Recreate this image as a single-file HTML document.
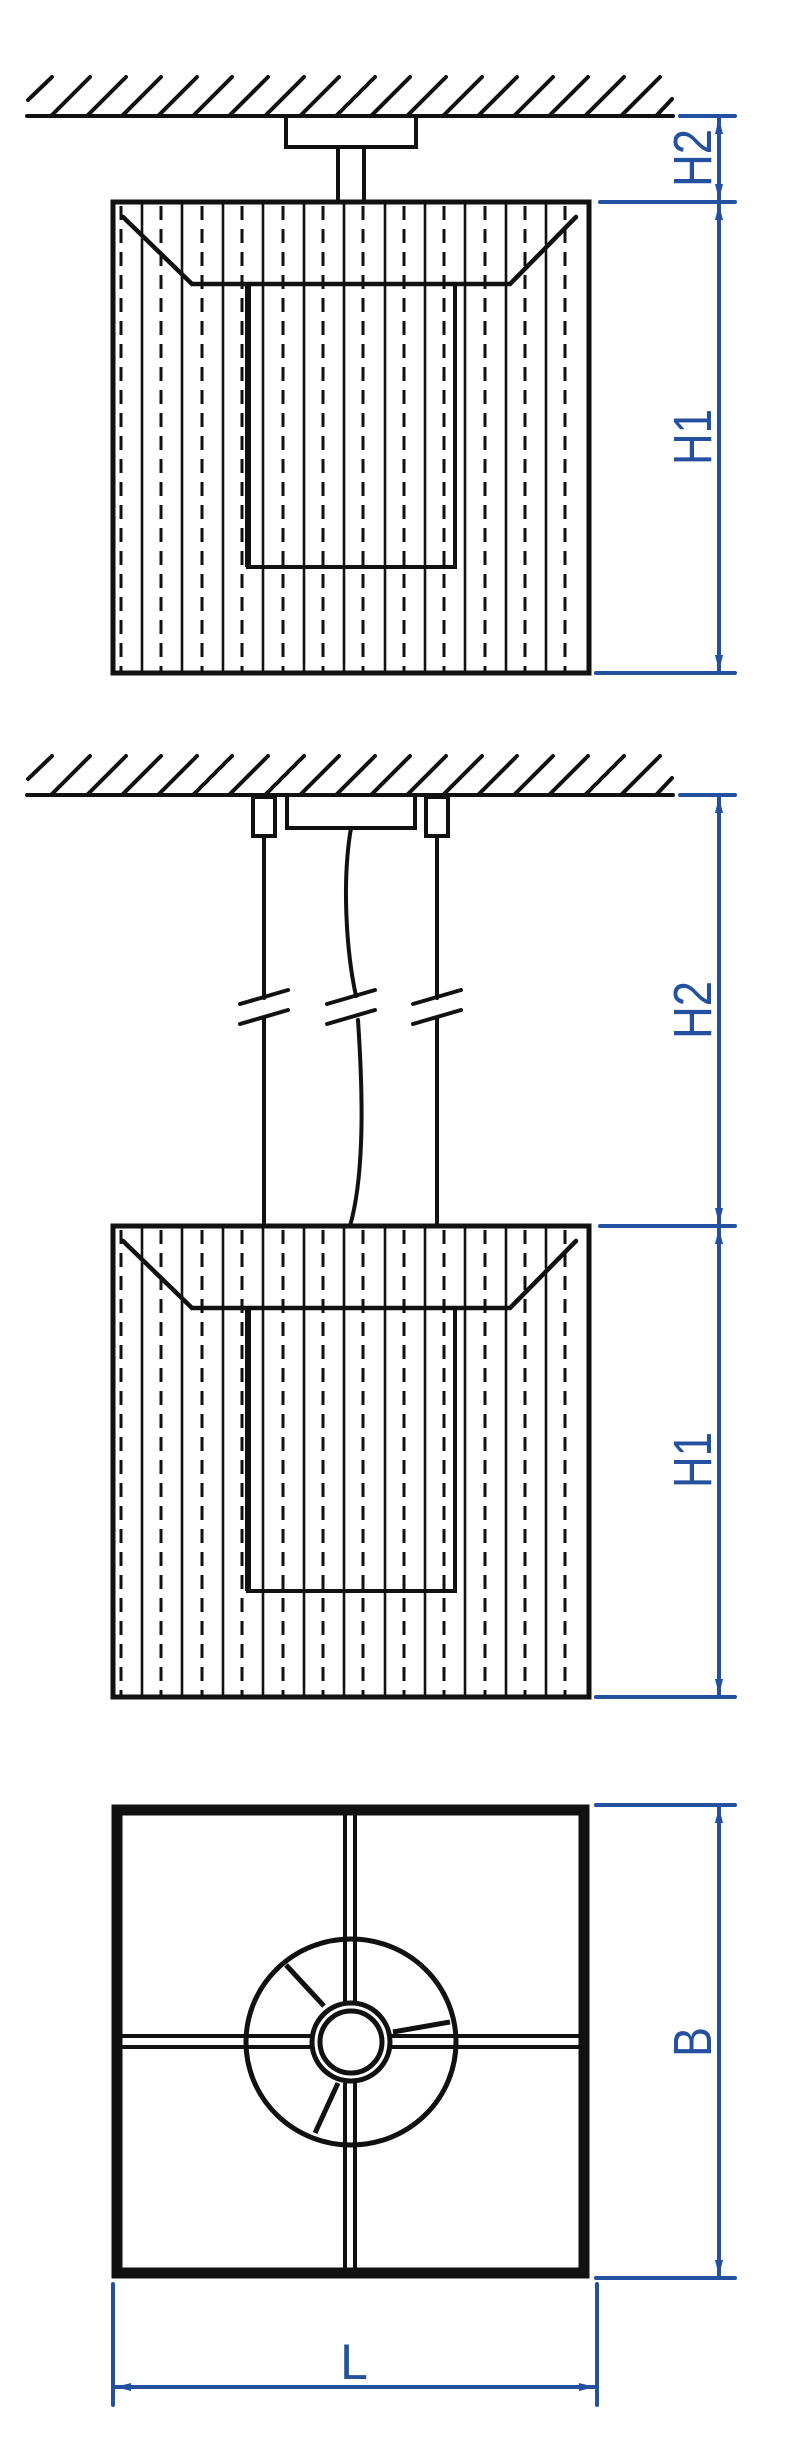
<!DOCTYPE html>
<html><head><meta charset="utf-8"><style>
html,body{margin:0;padding:0;background:#fff;}
svg{display:block;}
text{font-family:"Liberation Sans",sans-serif;fill:#2450a0;}
</style></head><body>
<svg width="800" height="2457" viewBox="0 0 800 2457" xmlns="http://www.w3.org/2000/svg">
<defs>
<g id="hatch" stroke="#111" stroke-width="4" stroke-linecap="round">
<line x1="27" y1="0" x2="673" y2="0"/>
<line x1="28" y1="-16" x2="52" y2="-39"/>
<line x1="52" y1="-1" x2="90" y2="-39"/>
<line x1="88" y1="-1" x2="126" y2="-39"/>
<line x1="123" y1="-1" x2="161" y2="-39"/>
<line x1="159" y1="-1" x2="197" y2="-39"/>
<line x1="194" y1="-1" x2="232" y2="-39"/>
<line x1="230" y1="-1" x2="268" y2="-39"/>
<line x1="266" y1="-1" x2="304" y2="-39"/>
<line x1="301" y1="-1" x2="339" y2="-39"/>
<line x1="337" y1="-1" x2="375" y2="-39"/>
<line x1="372" y1="-1" x2="410" y2="-39"/>
<line x1="408" y1="-1" x2="446" y2="-39"/>
<line x1="444" y1="-1" x2="482" y2="-39"/>
<line x1="479" y1="-1" x2="517" y2="-39"/>
<line x1="515" y1="-1" x2="553" y2="-39"/>
<line x1="550" y1="-1" x2="588" y2="-39"/>
<line x1="586" y1="-1" x2="624" y2="-39"/>
<line x1="622" y1="-1" x2="660" y2="-39"/>
<line x1="657" y1="-1" x2="672" y2="-17"/>
</g>
<g id="shade">
<g stroke="#111" stroke-width="2.6">
<line x1="142" y1="0" x2="142" y2="471"/><line x1="182" y1="0" x2="182" y2="471"/>
<line x1="223" y1="0" x2="223" y2="471"/><line x1="263" y1="0" x2="263" y2="471"/>
<line x1="304" y1="0" x2="304" y2="471"/><line x1="344" y1="0" x2="344" y2="471"/>
<line x1="385" y1="0" x2="385" y2="471"/><line x1="425" y1="0" x2="425" y2="471"/>
<line x1="465" y1="0" x2="465" y2="471"/><line x1="506" y1="0" x2="506" y2="471"/>
<line x1="546" y1="0" x2="546" y2="471"/>
</g>
<g stroke="#111" stroke-width="3" stroke-dasharray="14 9">
<line x1="121" y1="4" x2="121" y2="471"/><line x1="161" y1="4" x2="161" y2="471"/>
<line x1="202" y1="4" x2="202" y2="471"/><line x1="242" y1="4" x2="242" y2="471"/>
<line x1="283" y1="4" x2="283" y2="471"/><line x1="323" y1="4" x2="323" y2="471"/>
<line x1="363" y1="4" x2="363" y2="471"/><line x1="404" y1="4" x2="404" y2="471"/>
<line x1="444" y1="4" x2="444" y2="471"/><line x1="485" y1="4" x2="485" y2="471"/>
<line x1="525" y1="4" x2="525" y2="471"/><line x1="565" y1="4" x2="565" y2="471"/>
</g>
<rect x="113" y="0" width="476" height="471" fill="none" stroke="#111" stroke-width="5"/>
<polyline points="123,15 192,82 510,82 576,15" fill="none" stroke="#111" stroke-width="4.5" stroke-linecap="round"/>
<polyline points="248,82 248,365 455,365 455,82" fill="none" stroke="#111" stroke-width="4"/>
<line x1="248" y1="82" x2="248" y2="365" stroke="#111" stroke-width="6"/>
</g>
<g id="arrU"><path d="M0,0 L-4,16 L4,16 Z" fill="#2450a0"/></g>
<g id="arrD"><path d="M0,0 L-4,-16 L4,-16 Z" fill="#2450a0"/></g>
</defs>

<!-- VIEW 1 -->
<use href="#hatch" transform="translate(0,116)"/>
<rect x="286" y="116" width="130" height="31" fill="none" stroke="#111" stroke-width="4"/>
<line x1="338" y1="147" x2="338" y2="202" stroke="#111" stroke-width="4"/>
<line x1="364" y1="147" x2="364" y2="202" stroke="#111" stroke-width="4"/>
<use href="#shade" transform="translate(0,202)"/>
<g stroke="#2450a0" stroke-width="4" stroke-linecap="round">
<line x1="680" y1="116" x2="735" y2="116"/>
<line x1="600" y1="202" x2="735" y2="202"/>
<line x1="596" y1="673" x2="735" y2="673"/>
<line x1="719" y1="118" x2="719" y2="671"/>
</g>
<use href="#arrU" transform="translate(719,118)"/>
<use href="#arrD" transform="translate(719,200)"/>
<use href="#arrU" transform="translate(719,204)"/>
<use href="#arrD" transform="translate(719,671)"/>
<text transform="translate(711,158) rotate(-90)" font-size="54" text-anchor="middle" textLength="58" lengthAdjust="spacingAndGlyphs">H2</text>
<text transform="translate(711,437) rotate(-90)" font-size="54" text-anchor="middle" textLength="56" lengthAdjust="spacingAndGlyphs">H1</text>

<!-- VIEW 2 -->
<use href="#hatch" transform="translate(0,795)"/>
<rect x="287" y="795" width="128" height="33" fill="none" stroke="#111" stroke-width="4"/>
<rect x="253" y="797" width="22" height="39" fill="none" stroke="#111" stroke-width="4"/>
<rect x="426" y="797" width="22" height="39" fill="none" stroke="#111" stroke-width="4"/>
<g stroke="#111" stroke-width="4" fill="none" stroke-linecap="round">
<line x1="264" y1="836" x2="264" y2="998"/>
<line x1="264" y1="1018" x2="264" y2="1226"/>
<line x1="437" y1="836" x2="437" y2="998"/>
<line x1="437" y1="1018" x2="437" y2="1226"/>
<path d="M351,828 C342,880 346,950 356,996"/>
<path d="M358,1020 C362,1080 366,1170 350,1226"/>
<line x1="240" y1="1004" x2="288" y2="990"/>
<line x1="240" y1="1024" x2="288" y2="1010"/>
<line x1="327" y1="1004" x2="375" y2="990"/>
<line x1="327" y1="1024" x2="375" y2="1010"/>
<line x1="413" y1="1004" x2="461" y2="990"/>
<line x1="413" y1="1024" x2="461" y2="1010"/>
</g>
<use href="#shade" transform="translate(0,1226)"/>
<g stroke="#2450a0" stroke-width="4" stroke-linecap="round">
<line x1="680" y1="795" x2="735" y2="795"/>
<line x1="600" y1="1226" x2="735" y2="1226"/>
<line x1="596" y1="1697" x2="735" y2="1697"/>
<line x1="719" y1="797" x2="719" y2="1695"/>
</g>
<use href="#arrU" transform="translate(719,797)"/>
<use href="#arrD" transform="translate(719,1224)"/>
<use href="#arrU" transform="translate(719,1228)"/>
<use href="#arrD" transform="translate(719,1695)"/>
<text transform="translate(711,1010) rotate(-90)" font-size="54" text-anchor="middle" textLength="58" lengthAdjust="spacingAndGlyphs">H2</text>
<text transform="translate(711,1460) rotate(-90)" font-size="54" text-anchor="middle" textLength="56" lengthAdjust="spacingAndGlyphs">H1</text>

<!-- VIEW 3 -->
<rect x="117" y="1810" width="467" height="463" fill="none" stroke="#111" stroke-width="11"/>
<g stroke="#111" stroke-width="4" fill="none">
<line x1="345" y1="1815" x2="345" y2="2268"/>
<line x1="355" y1="1815" x2="355" y2="2268"/>
<line x1="122" y1="2036" x2="579" y2="2036"/>
<line x1="122" y1="2047" x2="579" y2="2047"/>
<ellipse cx="351" cy="2042" rx="105" ry="103" fill="#fff" stroke-width="5"/>
<line x1="345" y1="1939" x2="345" y2="2145"/>
<line x1="355" y1="1939" x2="355" y2="2145"/>
<line x1="246" y1="2036" x2="456" y2="2036"/>
<line x1="246" y1="2047" x2="456" y2="2047"/>
<line x1="286" y1="1965" x2="324" y2="2006" stroke-width="5"/>
<line x1="338" y1="2083" x2="315" y2="2133" stroke-width="5"/>
<line x1="393" y1="2032" x2="450" y2="2022" stroke-width="5"/>
<circle cx="351" cy="2042" r="39" fill="#fff" stroke-width="5"/>
<circle cx="351" cy="2042" r="31" fill="#fff" stroke-width="5"/>
</g>
<g stroke="#2450a0" stroke-width="4" stroke-linecap="round">
<line x1="596" y1="1805" x2="735" y2="1805"/>
<line x1="596" y1="2278" x2="735" y2="2278"/>
<line x1="719" y1="1807" x2="719" y2="2276"/>
<line x1="113" y1="2284" x2="113" y2="2405"/>
<line x1="597" y1="2284" x2="597" y2="2405"/>
<line x1="115" y1="2387" x2="595" y2="2387"/>
</g>
<use href="#arrU" transform="translate(719,1807)"/>
<use href="#arrD" transform="translate(719,2276)"/>
<path d="M115,2387 L131,2383 L131,2391 Z" fill="#2450a0"/>
<path d="M595,2387 L579,2383 L579,2391 Z" fill="#2450a0"/>
<text transform="translate(711,2042) rotate(-90)" font-size="54" text-anchor="middle" textLength="30" lengthAdjust="spacingAndGlyphs">B</text>
<text x="354" y="2379" font-size="50" text-anchor="middle">L</text>
</svg>
</body></html>
